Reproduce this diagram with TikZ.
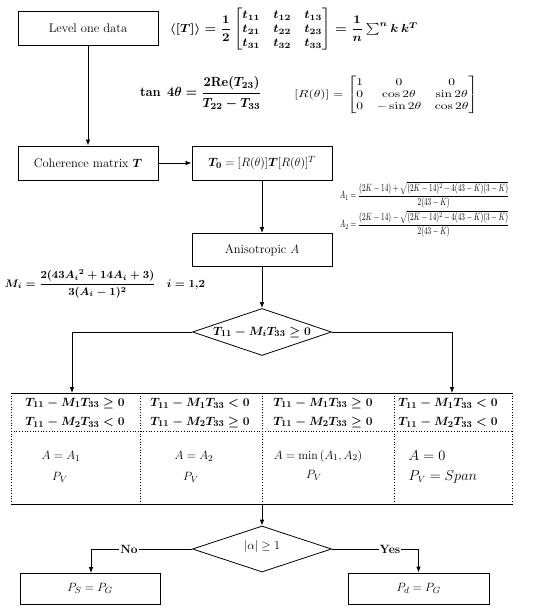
\documentclass[tikz,border=0pt]{standalone}
\usepackage{amsmath,amssymb,bm,graphicx}
\usetikzlibrary{shapes.geometric,arrows.meta}
\newcommand{\fitwh}[3]{\resizebox*{#1}{#2}{#3}}
\begin{document}
\begin{tikzpicture}[x=1pt,y=-1pt,line width=0.8pt,
  >={Latex[length=6pt,width=4.5pt]},
  box/.style={draw,rectangle,minimum width=140pt,minimum height=34pt,inner sep=0pt,font=\fontsize{12.5}{14}\selectfont},
  dia/.style={draw,diamond,minimum width=139pt,minimum height=47pt,inner sep=0pt},
  cond/.style={font=\fontsize{13}{15}\selectfont\boldmath},
  val/.style={font=\fontsize{12.5}{15}\selectfont},
  lab/.style={fill=white,inner sep=1pt,font=\fontsize{12}{14}\selectfont\bfseries},
  dotl/.style={dotted,line width=0.7pt}]
\useasboundingbox (0,0) rectangle (550,611);

% boxes
\node[box] (lvl) at (88,28) {Level one data};
\node[box] (coh) at (88,163) {Coherence matrix $\bm{T}$};
\node[box] (t0) at (262,163) {$\bm{T}_{\mathbf{0}}=[R(\theta)]\bm{T}[R(\theta)]^{T}$};
\node[box,minimum height=33pt] (ani) at (262,250) {Anisotropic $A$};
\node[dia] (d1) at (262,332) {};
\node[cond] (d1t) at (262,332) {$T_{11}-M_iT_{33}\geq 0$};
\node[dia,minimum height=46pt] (d2) at (262,549) {};
\node[val] (d2t) at (262,546) {$|\alpha|\geq 1$};
\node[box,minimum height=31pt] (ps) at (90,588.5) {$P_S=P_G$};
\node[box,minimum width=141pt,minimum height=31pt] (pd) at (418.5,588.5) {$P_d=P_G$};

% formulas
\node[inner sep=0pt] (f1) at (294,29.5) {\fitwh{248pt}{42pt}{\boldmath$\langle[\bm{T}]\rangle=\dfrac{1}{2}\begin{bmatrix}t_{11}&t_{12}&t_{13}\\t_{21}&t_{22}&t_{23}\\t_{31}&t_{32}&t_{33}\end{bmatrix}=\dfrac{1}{n}\sum^{n}\bm{k}\,\bm{k}^{T}$}};
\node[inner sep=0pt] (f2) at (201,93) {\fitwh{122pt}{32pt}{\boldmath$\tan\;4\theta=\dfrac{2\mathrm{Re}(T_{23})}{T_{22}-T_{33}}$}};
\node[inner sep=0pt] (f3) at (386,95) {\fitwh{183pt}{37pt}{$[R(\theta)]=\begin{bmatrix}1&0&0\\0&\cos2\theta&\sin2\theta\\0&-\sin2\theta&\cos2\theta\end{bmatrix}$}};
\node[inner sep=0pt] (fa1) at (424.5,195) {\fitwh{169pt}{27pt}{$A_1=\dfrac{(2K-14)+\sqrt{(2K-14)^2-4(43-K)(3-K)}}{2(43-K)}$}};
\node[inner sep=0pt] (fa2) at (424.5,224) {\fitwh{169pt}{27pt}{$A_2=\dfrac{(2K-14)-\sqrt{(2K-14)^2-4(43-K)(3-K)}}{2(43-K)}$}};
\node[inner sep=0pt] (fm) at (105,284) {\fitwh{200pt}{28pt}{\boldmath$M_i=\dfrac{2(43A_i{}^2+14A_i+3)}{3(A_i-1)^2}\quad i=1{,}2$}};

% connectors
\draw[->] (lvl.south) -- (coh.north);
\draw[->] (coh.east) -- (t0.west);
\draw[->] (t0.south) -- (ani.north);
\draw[->] (ani.south) -- (d1.north);
\coordinate (tl) at (72,393);
\coordinate (tr) at (452,393);
\coordinate (tb) at (262,504);
\coordinate (pst) at (91,573);
\draw[->] (d1.west) -| (tl);
\draw[->] (d1.east) -| (tr);
\draw[->] (tb) -- (d2.north);
\draw[->] (d2.west) -| (pst);
\draw[->] (d2.east) -| (pd.north);
\node[lab] (no) at (129,549) {No};
\node[lab] (yes) at (390,549) {Yes};

% table
\draw (11,393) -- (512,393);
\draw (11,504) -- (512,504);
\draw[dotl] (11,431) -- (512,431);
\draw[dotl] (11,393) -- (11,504);
\draw[dotl] (512,393) -- (512,504);
\draw[dotl] (140,393) -- (140,504);
\draw[dotl] (262,393) -- (262,504);
\draw[dotl] (394,393) -- (394,504);

\node[cond] (c11) at (75,403) {$T_{11}-M_1T_{33}\geq 0$};
\node[cond] (c12) at (75,422) {$T_{11}-M_2T_{33}<0$};
\node[cond] (c21) at (200,403) {$T_{11}-M_1T_{33}<0$};
\node[cond] (c22) at (200,422) {$T_{11}-M_2T_{33}\geq 0$};
\node[cond] (c31) at (323,403) {$T_{11}-M_1T_{33}\geq 0$};
\node[cond] (c32) at (323,422) {$T_{11}-M_2T_{33}\geq 0$};
\node[cond] (c41) at (448,403) {$T_{11}-M_1T_{33}<0$};
\node[cond] (c42) at (448,422) {$T_{11}-M_2T_{33}<0$};

\node[val] (a1) at (61,456) {$A=A_1$};
\node[val] (p1) at (60,477) {$P_V$};
\node[val] (a2) at (194,456) {$A=A_2$};
\node[val] (p2) at (191,477) {$P_V$};
\node[val] (a3) at (318,456) {$A=\min{(A_1,A_2)}$};
\node[val] (p3) at (314,475) {$P_V$};
\node[val,anchor=west,font=\fontsize{13.5}{15}\selectfont] (a4) at (405,456) {$A=0$};
\node[val,anchor=west,font=\fontsize{13.5}{15}\selectfont] (p4) at (405,477) {$P_V=Span$};
\end{tikzpicture}
\end{document}
